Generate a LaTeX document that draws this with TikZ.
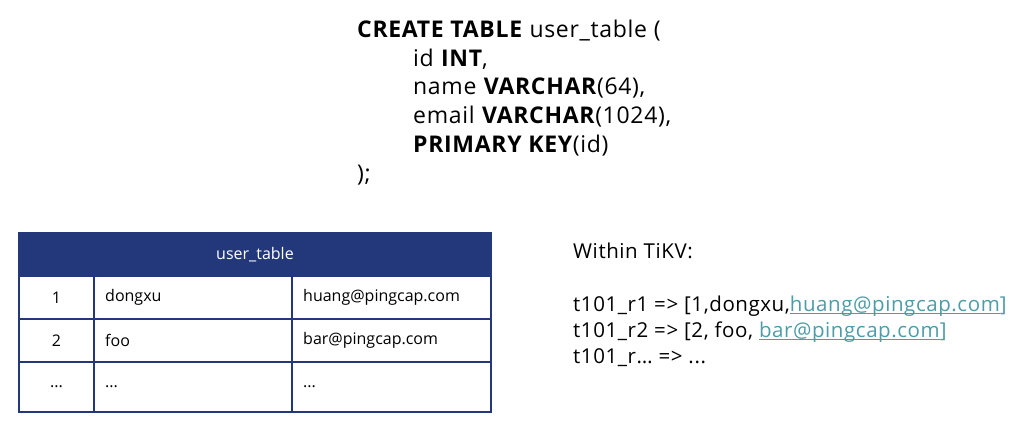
\documentclass[tikz,border=0pt]{standalone}
\usepackage{fontspec}
\setmainfont{Open Sans}
\definecolor{navy}{HTML}{22387A}
\definecolor{teal}{HTML}{4E9CA8}
\newcommand\ulink[1]{\setbox0\hbox{\color{teal}#1}\rlap{\color{teal}\rule[-3pt]{\wd0}{0.9pt}}\box0}
\begin{document}
\begin{tikzpicture}[x=1pt,y=-1pt,
  sql/.style={anchor=base west,inner sep=0pt,font=\fontsize{23}{26}\selectfont\addfontfeatures{LetterSpace=3}},
  kv/.style={anchor=base west,inner sep=0pt,font=\fontsize{20.5}{24}\selectfont\addfontfeatures{LetterSpace=2.8}},
  cell/.style={draw=navy,line width=2pt,anchor=north west,inner sep=0pt},
  celltext/.style={inner sep=0pt,font=\fontsize{16}{19}\selectfont}]
\useasboundingbox (0,0) rectangle (1034,426);
% SQL
\node[sql] (s1) at (357,37) {\textbf{CREATE TABLE} user\_table (};
\node[sql] (s2) at (413,66) {id \textbf{INT},};
\node[sql] (s3) at (413,94) {name \textbf{VARCHAR}(64),};
\node[sql] (s4) at (413,123) {email \textbf{VARCHAR}(1024),};
\node[sql] (s5) at (413,152) {\textbf{PRIMARY KEY}(id)};
\node[sql] (s6) at (357,181) {);};
% table
\node[cell,fill=navy,minimum width=472pt,minimum height=43pt] (h) at (18,232) {};
\node[celltext,text=white] (ht) at (h.center) {user\_table};
\foreach \r/\y/\hh in {1/275/43,2/318/43,3/361/50}{
  \node[cell,minimum width=75pt,minimum height=\hh pt] (c\r1) at (18,\y) {};
  \node[cell,minimum width=198pt,minimum height=\hh pt] (c\r2) at (93,\y) {};
  \node[cell,minimum width=199pt,minimum height=\hh pt] (c\r3) at (291,\y) {};
}
\node[celltext] (t11) at (c11.center) {1};
\node[celltext,anchor=west] (t12) at ([xshift=12pt]c12.west) {dongxu};
\node[celltext,anchor=west] (t13) at ([xshift=12pt]c13.west) {huang@pingcap.com};
\node[celltext] (t21) at (c21.center) {2};
\node[celltext,anchor=west] (t22) at ([xshift=12pt]c22.west) {foo};
\node[celltext,anchor=west] (t23) at ([xshift=12pt]c23.west) {bar@pingcap.com};
\node[celltext] (t31) at (c31.center) {...};
\node[celltext,anchor=west] (t32) at ([xshift=12pt]c32.west) {...};
\node[celltext,anchor=west] (t33) at ([xshift=12pt]c33.west) {...};
% KV
\node[kv] (k0) at (573,258) {Within TiKV:};
\node[kv] (k1) at (573,311) {t101\_r1 => [1,dongxu,\ulink{huang@pingcap.com}]};
\node[kv] (k2) at (573,337) {t101\_r2 => [2, foo, \ulink{bar@pingcap.com}]};
\node[kv] (k3) at (573,363) {t101\_r… => ...};
\end{tikzpicture}
\end{document}
